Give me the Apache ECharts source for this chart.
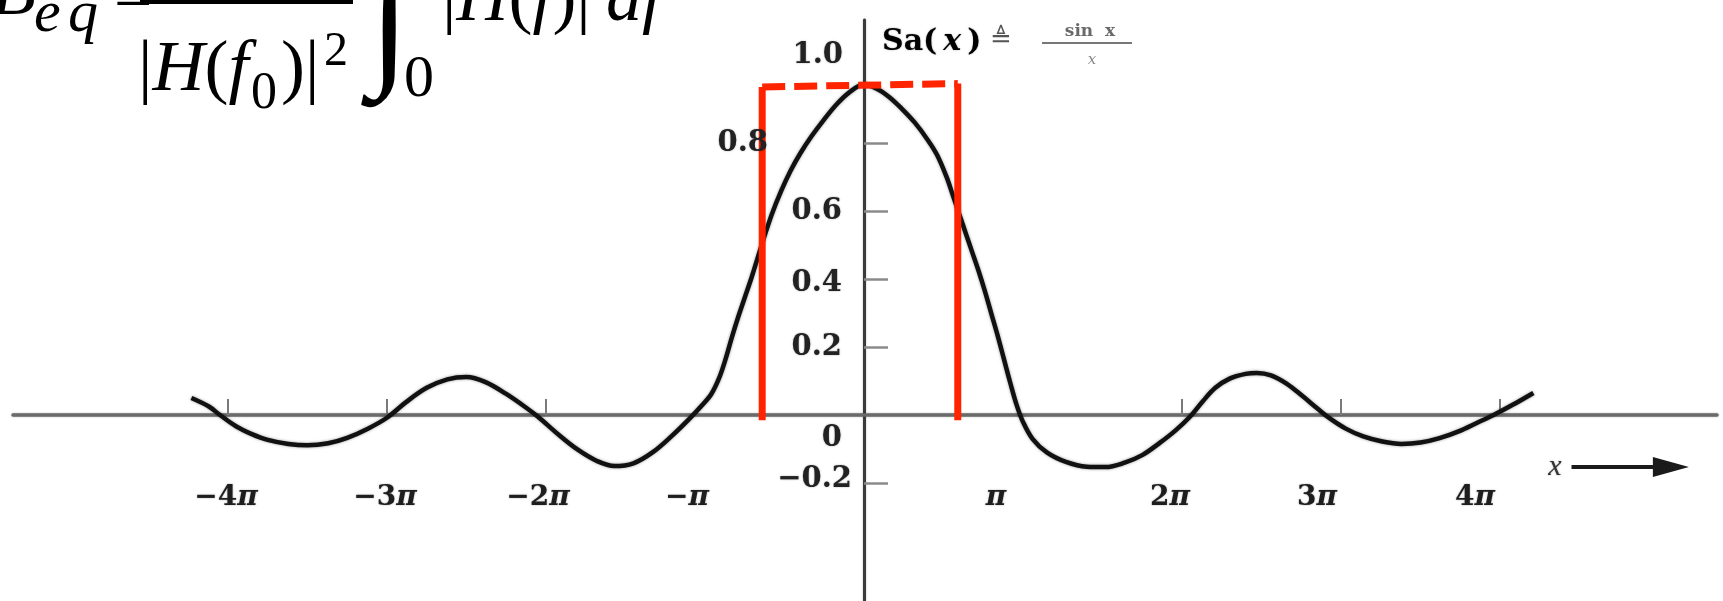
<!DOCTYPE html>
<html>
<head>
<meta charset="utf-8">
<script src="https://cdn.jsdelivr.net/npm/echarts@6/dist/echarts.min.js"></script>
<style>
  html, body { margin: 0; padding: 0; background: #ffffff; }
  #chart { width: 1723px; height: 601px; }
</style>
</head>
<body>
<div id="chart"></div>
<script>
// Sampling function Sa(x) = sin x / x ; x is given in multiples of π
const curveX = [-4.23, -4.12, -4.05, -3.95, -3.85, -3.75, -3.62, -3.50, -3.37, -3.25,
                -3.12, -3.00, -2.88, -2.75, -2.62, -2.50, -2.38, -2.25, -2.12, -2.05,
                -1.92, -1.80, -1.68, -1.57, -1.45, -1.33, -1.21, -1.10, -1.02, -0.96,
                -0.91, -0.87, -0.83, -0.79, -0.75, -0.71, -0.67, -0.63, -0.58, -0.52,
                -0.46, -0.40, -0.33, -0.25, -0.17, -0.09, 0.00, 0.08, 0.16, 0.24,
                 0.32, 0.40, 0.46, 0.52, 0.56, 0.60, 0.64, 0.68, 0.72, 0.76,
                 0.80, 0.84, 0.88, 0.92, 0.96, 1.00, 1.06, 1.15, 1.27, 1.40,
                 1.52, 1.64, 1.75, 1.86, 1.96, 2.05, 2.13, 2.21, 2.30, 2.40,
                 2.47, 2.56, 2.66, 2.76, 2.85, 2.93, 3.03, 3.14, 3.26, 3.38,
                 3.50, 3.62, 3.74, 3.86, 3.96, 4.08, 4.21];
const curveY = [ 0.050,  0.025,  0.000, -0.033, -0.056, -0.073, -0.085, -0.089, -0.083, -0.067,
                -0.040, -0.008,  0.038,  0.080,  0.105,  0.112,  0.097,  0.062,  0.020, -0.005,
                -0.058, -0.102, -0.135, -0.150, -0.142, -0.110, -0.062, -0.012,  0.028,  0.062,
                 0.110,  0.165,  0.230,  0.290,  0.345,  0.400,  0.460,  0.520,  0.590,  0.660,
                 0.720,  0.770,  0.820,  0.870,  0.915,  0.950,  0.972,  0.960,  0.935,  0.900,
                 0.860,  0.810,  0.765,  0.700,  0.645,  0.590,  0.535,  0.480,  0.425,  0.365,
                 0.300,  0.235,  0.165,  0.095,  0.030, -0.020, -0.070, -0.110, -0.138, -0.152,
                -0.153, -0.140, -0.118, -0.082, -0.045, -0.005,  0.040,  0.080,  0.107,  0.121,
                 0.124,  0.117,  0.092,  0.055,  0.020, -0.010, -0.040, -0.063, -0.078, -0.085,
                -0.081, -0.068, -0.048, -0.022,  0.000,  0.030,  0.065];

// Axis ticks and labels
const xTickValues = [-4, -3, -2, -1, 1, 2, 3, 4];
const xTickLabels = ['−4π', '−3π', '−2π', '−π', 'π', '2π', '3π', '4π'];
const xTickMarks  = [-4, -3, -2, 2, 3, 4];
const yTickValues = [-0.2, 0, 0.2, 0.4, 0.6, 0.8, 1.0];
const yTickLabels = ['−0.2', '0', '0.2', '0.4', '0.6', '0.8', '1.0'];
const yTickMarks  = [-0.2, 0.2, 0.4, 0.6, 0.8];

// Equivalent-bandwidth rectangle (edges in multiples of π, heights in Sa units)
const bandEdges = [-0.64, 0.59];
const bandTop   = [0.965, 0.975];
const bandBase  = -0.015;

// ---- presentation ----
const LABEL_FONT = 'DejaVu Serif, Liberation Serif, serif';
const MATH_FONT = 'Liberation Serif, Times New Roman, serif';
const RED = '#ff2300';
const ARROW_FROM = [4.45, -0.153];
const ARROW_TO = [5.075, -0.153];
const SOFT = { textShadowBlur: 2, textShadowColor: 'rgba(0,0,0,0.35)' };

// pixel nudges of the tick labels, keyed by tick value
const xLabelNudge = { '-4': -2, '-3': -2, '-2': -8, '-1': -18, '1': -27, '2': -12, '3': -24, '4': -25 };
const yLabelNudge = {
  '-0.2': [0, -4], '0': [-10, 23], '0.2': [-10, 0], '0.4': [-10, 4],
  '0.6': [-10, 0], '0.8': [-84, 0], '1': [-9, -20]
};

const curveData = curveX.map((x, i) => [x, curveY[i]]);

const xLabelData = xTickValues.map((v) => ({
  value: [v, 0],
  label: { offset: [xLabelNudge[String(v)] || 0, 0] }
}));
const yLabelData = yTickValues.map((v) => ({
  value: [0, v],
  label: { offset: yLabelNudge[String(v)] || [0, 0] }
}));

const chart = echarts.init(document.getElementById('chart'), null, { renderer: 'canvas' });

function mathText(x, y, text, size, italic, weight) {
  return {
    type: 'text', x: x, y: y, z: 100,
    style: { text: text, fontFamily: MATH_FONT, fontSize: size, fontStyle: italic ? 'italic' : 'normal',
             fontWeight: weight || 'normal', fill: '#000', align: 'left', verticalAlign: 'middle' }
  };
}
const mathRich = {
  i: { fontFamily: MATH_FONT, fontSize: 72, fontStyle: 'italic', color: '#000' },
  u: { fontFamily: MATH_FONT, fontSize: 72, color: '#000' }
};
const tickLabelStyle = Object.assign({ fontFamily: LABEL_FONT, fontWeight: 'bold', fontSize: 28, color: '#1e1e1e' }, SOFT);

chart.setOption({
  animation: false,
  backgroundColor: '#ffffff',
  grid: { left: 13, right: 6, top: 20, bottom: 0, containLabel: false, outerBoundsMode: 'none' },
  xAxis: {
    type: 'value', min: -5.352, max: 5.365,
    splitLine: { show: false },
    axisLine: { onZero: true, lineStyle: { color: '#6a6a6a', width: 3.5, shadowBlur: 2, shadowColor: 'rgba(0,0,0,0.3)' } },
    axisTick: { show: true, inside: true, length: 16, customValues: xTickMarks,
                lineStyle: { color: '#7a7a7a', width: 2 } },
    axisLabel: { show: false }
  },
  yAxis: {
    type: 'value', min: -0.547, max: 1.162,
    splitLine: { show: false },
    axisLine: { onZero: true, lineStyle: { color: '#3a3a3a', width: 3, shadowBlur: 2, shadowColor: 'rgba(0,0,0,0.3)' } },
    axisTick: { show: true, inside: true, length: 24, customValues: yTickMarks,
                lineStyle: { color: '#8a8a8a', width: 2.5 } },
    axisLabel: { show: false }
  },
  series: [
    {
      name: 'Sa(x)', type: 'line', data: curveData, showSymbol: false, smooth: 0.35, z: 3,
      lineStyle: { color: '#111111', width: 4.5, shadowBlur: 3, shadowColor: 'rgba(0,0,0,0.4)' }
    },
    {
      name: 'band-left', type: 'line', showSymbol: false, z: 5,
      data: [[bandEdges[0], bandBase], [bandEdges[0], bandTop[0]]],
      lineStyle: { color: RED, width: 7, cap: 'butt' }
    },
    {
      name: 'band-right', type: 'line', showSymbol: false, z: 5,
      data: [[bandEdges[1], bandTop[1]], [bandEdges[1], bandBase]],
      lineStyle: { color: RED, width: 7, cap: 'butt' }
    },
    {
      name: 'band-top', type: 'line', showSymbol: false, z: 5,
      data: [[bandEdges[0], bandTop[0]], [bandEdges[1], bandTop[1]]],
      lineStyle: { color: RED, width: 7, type: [23, 9], dashOffset: 0, cap: 'butt' }
    },
    {
      // x tick labels, placed through the axis scale under the x axis line
      name: 'x-labels', type: 'scatter', symbolSize: 0, silent: true, z: 6,
      itemStyle: { opacity: 1, color: 'rgba(0,0,0,0)' },
      data: xLabelData,
      label: {
        show: true, position: 'bottom', distance: 69, opacity: 1,
        formatter: function (p) {
          const s = xTickLabels[p.dataIndex];
          const num = s.slice(0, -1);
          return (num ? '{n|' + num + '}' : '') + '{p|π}';
        },
        rich: {
          n: tickLabelStyle,
          p: Object.assign({}, tickLabelStyle, { fontStyle: 'italic' })
        }
      },
      emphasis: { disabled: true }
    },
    {
      // y tick labels, to the left of the vertical axis
      name: 'y-labels', type: 'scatter', symbolSize: 0, silent: true, z: 6,
      itemStyle: { opacity: 1, color: 'rgba(0,0,0,0)' },
      data: yLabelData,
      label: Object.assign({
        show: true, position: 'left', distance: 12, opacity: 1,
        formatter: function (p) { return yTickLabels[p.dataIndex]; },
        fontFamily: LABEL_FONT, fontWeight: 'bold', fontSize: 29, color: '#222222'
      }, SOFT),
      emphasis: { disabled: true }
    },
    {
      name: 'x-arrow', type: 'line', data: [], z: 4,
      markLine: {
        silent: true, animation: false,
        symbol: ['none', 'triangle'], symbolSize: [20, 36],
        itemStyle: { color: '#1a1a1a' },
        lineStyle: { color: '#1a1a1a', width: 4, type: 'solid' },
        label: Object.assign({
          show: true, position: 'start', formatter: 'x', distance: 10,
          fontFamily: MATH_FONT, fontStyle: 'italic', fontSize: 30, color: '#333'
        }, SOFT),
        data: [[{ coord: ARROW_FROM }, { coord: ARROW_TO }]]
      }
    }
  ],
  graphic: [
    // B_eq = 1/|H(f0)|^2 ∫0 |H(f)|^2 df  (upper part runs off the top edge)
    mathText(-8, -5, 'B', 72, true),
    mathText(34, 15, 'e', 60, true),
    mathText(68, 15, 'q', 60, true),
    mathText(114, 1, '=', 68, false),
    { type: 'rect', z: 100, shape: { x: 140, y: -2, width: 213, height: 6 }, style: { fill: '#000' } },
    { type: 'text', x: 138, y: 71, z: 100,
      style: { text: '{u||}{i|H}{u|(}{i|f}', rich: mathRich, verticalAlign: 'middle', align: 'left' } },
    mathText(251, 94, '0', 52, false),
    mathText(281, 71, ')|', 72, false),
    mathText(324, 52, '2', 48, false),
    mathText(369, 28, '∫', 150, false, 'bold'),
    mathText(404, 80, '0', 60, false),
    { type: 'text', x: 442, y: 1, z: 100,
      style: { text: '{u||}{i|H}{u|(}{i|f}{u|)|}', rich: mathRich, verticalAlign: 'middle', align: 'left' } },
    mathText(590, -35, '2', 48, false),
    mathText(606, 1, 'df', 72, true),

    // Sa(x) ≜ sin x / x beside the vertical axis
    { type: 'text', x: 882, y: 42, z: 50,
      style: {
        text: '{r|Sa(\u2009}{i|x}{r|\u2009)}', verticalAlign: 'middle', align: 'left',
        rich: {
          r: Object.assign({ fontFamily: LABEL_FONT, fontWeight: 'bold', fontSize: 30, color: '#4a4a4a' }, SOFT),
          i: Object.assign({ fontFamily: LABEL_FONT, fontWeight: 'bold', fontSize: 30, fontStyle: 'italic', color: '#4a4a4a' }, SOFT)
        }
      } },
    { type: 'text', x: 990, y: 40, z: 50,
      style: { text: '≜', fontFamily: 'DejaVu Sans, sans-serif', fontSize: 26, fill: '#555', verticalAlign: 'middle' } },
    { type: 'text', x: 1090, y: 32, z: 50,
      style: { text: 'sin  x', fontFamily: LABEL_FONT, fontWeight: 'bold', fontSize: 17, fill: '#6a6a6a',
               align: 'center', verticalAlign: 'middle' } },
    { type: 'rect', z: 50, shape: { x: 1042, y: 42, width: 90, height: 2 }, style: { fill: '#777' } },
    { type: 'text', x: 1092, y: 60, z: 50,
      style: { text: 'x', fontFamily: LABEL_FONT, fontStyle: 'italic', fontSize: 15, fill: '#888',
               align: 'center', verticalAlign: 'middle' } }
  ]
});
</script>
</body>
</html>
